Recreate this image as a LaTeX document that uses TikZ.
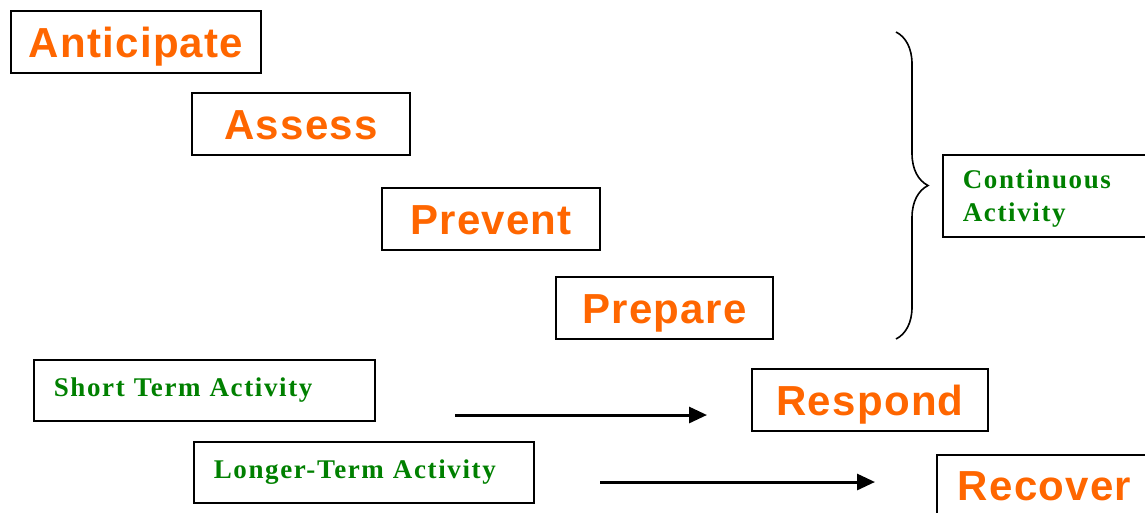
\documentclass[tikz,border=0pt]{standalone}
\usepackage{fontspec}
\setmainfont{Liberation Serif}
\newfontfamily\stagefont[LetterSpace=3]{Liberation Sans}
\newfontfamily\notefont[LetterSpace=6]{Liberation Serif}
\usetikzlibrary{arrows.meta,decorations.pathreplacing}
\definecolor{stageorange}{RGB}{255,102,0}
\definecolor{notegreen}{RGB}{0,128,0}
\tikzset{
	stagebox/.style={draw=black, line width=1.6pt, inner sep=0pt, minimum height=62pt,
		text height=30pt, text depth=0pt, text=stageorange,
		font=\stagefont\bfseries\fontsize{42}{50}\selectfont},
	notebox/.style={draw=black, line width=1.6pt, anchor=north west, inner xsep=20pt,
		inner ysep=0pt, align=left, text=notegreen,
		font=\notefont\bfseries\fontsize{27}{33}\selectfont},
	flow/.style={line width=3pt, -{Triangle[length=18pt,width=16pt]}}
}
\begin{document}
\begin{tikzpicture}[x=1pt,y=-1pt]
	\useasboundingbox (0,0) rectangle (1145,512);
	% continuous stages, stepping down to the right
	\foreach \name/\word/\x/\y/\w in {anticipate/Anticipate/136/42/250,
		assess/Assess/301/124/218, prevent/Prevent/491/219/218,
		prepare/Prepare/664.5/308/217}
		\node[stagebox, minimum width=\w pt] (\name) at (\x,\y) {\word};
	\node[stagebox, minimum width=236pt] (respond) at (870,400) {Respond};
	\node[stagebox, minimum width=215pt, minimum height=60pt] (recover) at (1044.5,485) {Recover};
	% activity notes
	\node[notebox, text width=301pt, minimum height=61pt, text height=18pt, text depth=6pt]
		(shortterm) at (33,359) {Short Term Activity};
	\node[notebox, text width=300pt, minimum height=61pt, text height=18pt, text depth=6pt]
		(longterm) at (193,441) {Longer-Term Activity};
	\node[notebox, text width=180pt, minimum height=82pt, text height=18pt, text depth=32pt]
		(continuous) at (942,154) {Continuous\\Activity};
	% brace over the first four stages
	\coordinate (bracetop) at (896,32);
	\coordinate (bracebot) at (896,339);
	\draw[line width=1.6pt, decorate, decoration={brace, amplitude=32pt}] (bracetop) -- (bracebot);
	% arrows towards respond and recover
	\coordinate (shortfrom) at (455,415);
	\coordinate (shortto) at (707,415);
	\coordinate (longfrom) at (600,482);
	\coordinate (longto) at (875,482);
	\draw[flow] (shortfrom) -- (shortto);
	\draw[flow] (longfrom) -- (longto);
\end{tikzpicture}
\end{document}
